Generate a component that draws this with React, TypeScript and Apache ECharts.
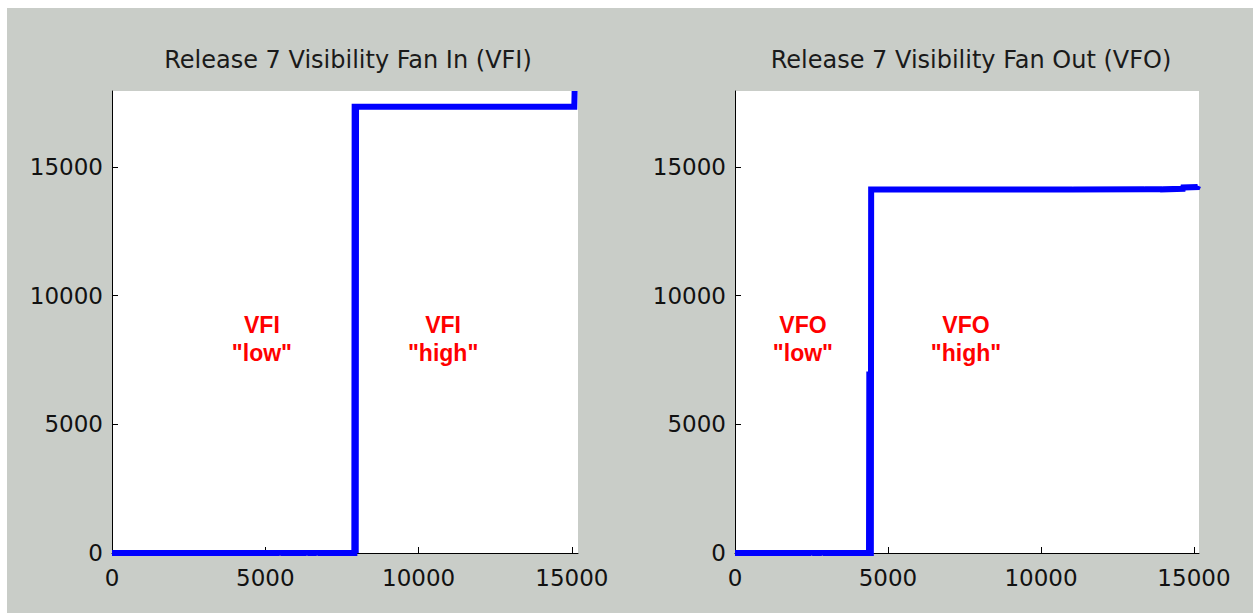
import React, { useEffect, useRef } from "react";
import * as echarts from "echarts";

// ---- data ----
const xTicks = [0, 5000, 10000, 15000];
const yTicks = [0, 5000, 10000, 15000];
const xMaxLeft = 15200;
const xMaxRight = 15165;
const yMax = 17950;

const vfiTitle = "Release 7 Visibility Fan In (VFI)";
const vfoTitle = "Release 7 Visibility Fan Out (VFO)";

// Fan In series: [index, value]
const vfiPoints: [number, number][] = [
  [0, 0],
  [5470, 0],
  [5480, -60],
  [5490, 0],
  [6350, 0],
  [6360, -60],
  [6370, 0],
  [6680, 0],
  [6690, -60],
  [6700, 0],
  [7905, 0],
  [7915, 17340],
  [7945, 17340],
  [7950, 0],
  [7960, 17340],
  [15080, 17340],
  [15090, 17950],
];

// Fan Out series
const vfoPoints: [number, number][] = [
  [0, 0],
  [2500, 0],
  [2510, -60],
  [2520, 0],
  [2840, 0],
  [2850, -60],
  [2860, 0],
  [4380, 0],
  [4390, 7050],
  [4400, 0],
  [4440, 0],
  [4450, 14120],
  [11040, 14120],
  [11045, 14220],
  [11050, 14120],
  [13390, 14130],
  [13395, 14230],
  [13400, 14130],
  [13980, 14130],
  [13985, 14230],
  [13990, 14130],
  [14640, 14150],
  [14650, 14200],
  [15120, 14220],
  [15140, 14270],
];

// annotations: [x, y, label]
const vfiNotes: [number, number, string][] = [
  [4890, 8300, 'VFI\n"low"'],
  [10800, 8300, 'VFI\n"high"'],
];
const vfoNotes: [number, number, string][] = [
  [2220, 8300, 'VFO\n"low"'],
  [7550, 8300, 'VFO\n"high"'],
];

const TICK_FONT = "DejaVu Sans";

export default function App() {
  const ref = useRef<HTMLDivElement>(null);

  useEffect(() => {
    if (!ref.current) return;
    const chart = echarts.init(ref.current, undefined, { renderer: "svg" });

    const mkX = (idx: number, max: number) => ({
      type: "value",
      gridIndex: idx,
      min: 0,
      max,
      interval: 5000,
      splitLine: { show: false },
      axisLine: { show: true, onZero: false, lineStyle: { color: "#000", width: 1 } },
      axisTick: {
        show: true,
        inside: true,
        length: 6,
        customValues: xTicks,
        lineStyle: { color: "#000" },
      },
      axisLabel: {
        customValues: xTicks,
        formatter: (v: number) => String(v),
        margin: 13,
        color: "#111",
        fontFamily: TICK_FONT,
        fontSize: 23,
      },
    });
    const mkY = (idx: number) => ({
      type: "value",
      gridIndex: idx,
      min: 0,
      max: yMax,
      interval: 5000,
      splitLine: { show: false },
      axisLine: { show: true, onZero: false, lineStyle: { color: "#000", width: 1 } },
      axisTick: {
        show: true,
        inside: true,
        length: 6,
        customValues: yTicks,
        lineStyle: { color: "#000" },
      },
      axisLabel: {
        customValues: yTicks,
        formatter: (v: number) => String(v),
        margin: 9,
        color: "#111",
        fontFamily: TICK_FONT,
        fontSize: 23,
      },
    });

    const noteSeries = (idx: number, notes: [number, number, string][]) => ({
      type: "scatter",
      xAxisIndex: idx,
      yAxisIndex: idx,
      symbolSize: 0,
      silent: true,
      z: 5,
      itemStyle: { opacity: 1, color: "#ff0000" },
      data: notes.map((n) => ({ value: [n[0], n[1]], name: n[2] })),
      label: {
        show: true,
        position: "inside",
        formatter: (p: any) => p.name,
        color: "#ff0000",
        opacity: 1,
        fontWeight: "bold",
        fontFamily: "Liberation Sans",
        fontSize: 23,
        lineHeight: 28,
        align: "center",
        verticalAlign: "middle",
      },
    });

    chart.setOption({
      animation: false,
      backgroundColor: "#c9cdc8",
      title: [
        {
          text: vfiTitle,
          left: 336,
          top: 35,
          textAlign: "center",
          textStyle: { fontFamily: TICK_FONT, fontWeight: "normal", fontSize: 24, color: "#1a1a1a" },
        },
        {
          text: vfoTitle,
          left: 959,
          top: 35,
          textAlign: "center",
          textStyle: { fontFamily: TICK_FONT, fontWeight: "normal", fontSize: 24, color: "#1a1a1a" },
        },
      ],
      grid: [
        { left: 105, top: 83, width: 466, height: 462, show: true, backgroundColor: "#ffffff", borderWidth: 0 },
        { left: 728, top: 83, width: 464, height: 462, show: true, backgroundColor: "#ffffff", borderWidth: 0 },
      ],
      xAxis: [mkX(0, xMaxLeft), mkX(1, xMaxRight)],
      yAxis: [mkY(0), mkY(1)],
      series: [
        {
          type: "line",
          xAxisIndex: 0,
          yAxisIndex: 0,
          data: vfiPoints,
          showSymbol: false,
          symbol: "none",
          lineStyle: { color: "#0000ff", width: 6, join: "miter" },
          clip: true,
        },
        {
          type: "line",
          xAxisIndex: 1,
          yAxisIndex: 1,
          data: vfoPoints,
          showSymbol: false,
          symbol: "none",
          lineStyle: { color: "#0000ff", width: 6, join: "miter" },
          clip: true,
        },
        noteSeries(0, vfiNotes),
        noteSeries(1, vfoNotes),
      ],
    });

    return () => chart.dispose();
  }, []);

  return (
    <div
      ref={ref}
      style={{ position: "absolute", left: 7, top: 8, width: 1246, height: 605 }}
    />
  );
}
